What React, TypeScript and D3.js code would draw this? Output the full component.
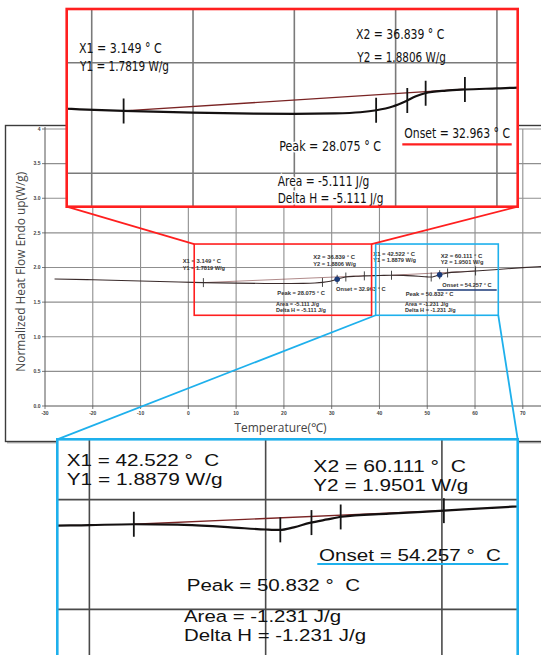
import React from 'react';
import * as d3 from 'd3';

// ---- data ----
const curveTemp = [-28, -20, -10, -2, 3.15, 10, 16, 20, 24, 26.5, 28.1, 29.7, 31, 32, 32.9, 35, 36.8, 40, 42.5, 45, 47, 48.2, 50, 50.8, 51.6, 52.5, 53.5, 54.3, 57, 60.1, 64, 70, 74];
const curveHeat = [1.834, 1.823, 1.806, 1.791, 1.782, 1.774, 1.770, 1.769, 1.771, 1.776, 1.785, 1.802, 1.826, 1.848, 1.862, 1.874, 1.879, 1.884, 1.888, 1.886, 1.879, 1.873, 1.864, 1.862, 1.874, 1.894, 1.910, 1.922, 1.936, 1.950, 1.968, 1.998, 2.015];

const xTickValues = [-30, -20, -10, 0, 10, 20, 30, 40, 50, 60, 70];
const yTickValues = [0, 0.5, 1, 1.5, 2, 2.5, 3, 3.5, 4];
const yTickLabels = ['0.0', '0.5', '1.0', '1.5', '2.0', '2.5', '3.0', '3.5', '4'];

const eventX1 = [3.149, 42.522];
const eventY1 = [1.7819, 1.8879];
const eventX2 = [36.839, 60.111];
const eventY2 = [1.8806, 1.9501];
const peakT = [28.075, 50.832];
const onsetT = [32.963, 54.257];
const areaJg = [-5.111, -1.231];
const markerT = [31.15, 52.6];

// zoom windows in data units (main chart)
const windowX = [[1.23, 38.35], [39.21, 64.87]];
const windowY = [1.31, 2.339];

// ---- layout ----
const W = 541, H = 655;
const main = { left: 45, right: 541, top: 129, bottom: 406, x70: 522.8 };
const insets = [
  { x: 66.7, y: 9, w: 451, h: 197.7, xd: [-2.47, 42.05], yd: [1.349, 2.243], color: '#ff1f1f', grid: '#7a7a7a' },
  { x: 57.3, y: 439.3, w: 460.4, h: 219.5, xd: [38.18, 64.3], yd: [1.275, 2.275], color: '#1eb0ec', grid: '#4a4a4a' },
];

function heatAt(t: number) {
  const i = Math.max(1, Math.min(curveTemp.length - 1, d3.bisectLeft(curveTemp, t)));
  const t0 = curveTemp[i - 1], t1 = curveTemp[i];
  const f = (t - t0) / (t1 - t0);
  return curveHeat[i - 1] + f * (curveHeat[i] - curveHeat[i - 1]);
}

const fmtLabels = (i: number, sp: string) => ({
  x1: `X1 = ${eventX1[i].toFixed(3)} °${sp}C`,
  y1: `Y1 = ${eventY1[i].toFixed(4)} W/g`,
  x2: `X2 = ${eventX2[i].toFixed(3)} °${sp}C`,
  y2: `Y2 = ${eventY2[i].toFixed(4)} W/g`,
  peak: `Peak = ${peakT[i].toFixed(3)} °${sp}C`,
  onset: `Onset = ${onsetT[i].toFixed(3)} °${sp}C`,
  area: `Area = ${areaJg[i].toFixed(3)} J/g`,
  dh: `Delta H = ${areaJg[i].toFixed(3)} J/g`,
});

// label placements: [x, baseline, textLength]
const mainLabelPos = [
  { x1: [182.7, 263.3, 38.3], y1: [182.7, 269.7, 42.3], x2: [313.3, 259.3, 41.7], y2: [313.3, 266, 42.7], peak: [277.3, 295, 47.7], onset: [336, 291, 49.7], area: [276, 305.7, 43], dh: [276, 312, 50] },
  { x1: [373.3, 256.3, 41.7], y1: [373.3, 262.3, 42.7], x2: [440.7, 258.3, 41.7], y2: [440.7, 264.3, 42.7], peak: [405.7, 296.3, 47.7], onset: [442.3, 286.7, 49.3], area: [405, 306.3, 43.3], dh: [405, 312.3, 50.7] },
];
const insetLabelPos = [
  { x1: [79, 53.3, 82.7], y1: [80, 70.7, 89], x2: [356, 39.3, 88.3], y2: [357.3, 61.7, 88.7], peak: [279.3, 150.7, 101.7], onset: [404.3, 137.7, 105.7], area: [277.7, 186, 91.7], dh: [277.7, 203.3, 105.7] },
  { x1: [66.7, 466, 152.6], y1: [66.7, 485, 156], x2: [313.3, 472.3, 152.7], y2: [313.3, 491, 155], peak: [186.7, 590.7, 173.3], onset: [319, 560.7, 182], area: [184, 622.3, 157], dh: [184, 640.7, 182] },
];
const insetFont = [14.8, 17.2];
const insetFamily = ["'Liberation Sans Narrow', 'DejaVu Sans Condensed', 'Liberation Sans', Arial, sans-serif", "'Liberation Sans', Arial, sans-serif"];
const underlineMain = { x0: 437.3, x1: 496.7, y: 290 };
const underlineInset = [{ x0: 402.3, x1: 511.7, y: 144.3 }, { x0: 317.3, x1: 508.3, y: 564 }];

const keys = ['x1', 'y1', 'x2', 'y2', 'peak', 'onset', 'area', 'dh'];

function tickTemps(i: number) {
  return [eventX1[i], peakT[i], markerT[i], onsetT[i], eventX2[i]];
}

function Inset({ idx }: { idx: number }) {
  const b = insets[idx];
  const x = d3.scaleLinear().domain(b.xd).range([b.x, b.x + b.w]);
  const y = d3.scaleLinear().domain(b.yd).range([b.y + b.h, b.y]);
  const line = d3.line<number>().x((_, i) => x(curveTemp[i])).y(d => y(d)).curve(d3.curveMonotoneX);
  const vg = d3.range(Math.ceil(b.xd[0] / 10) * 10, b.xd[1], 10);
  const hg = d3.range(Math.ceil(b.yd[0] / 0.5) * 0.5, b.yd[1], 0.5);
  const labels = fmtLabels(idx, idx === 0 ? '\u00A0' : '\u00A0\u00A0');
  const pos: any = insetLabelPos[idx];
  const ul = underlineInset[idx];
  const clipId = `inset-clip-${idx}`;
  return (
    <g>
      <defs>
        <clipPath id={clipId}><rect x={b.x} y={b.y} width={b.w} height={b.h} /></clipPath>
      </defs>
      <rect x={b.x} y={b.y} width={b.w} height={b.h} fill="#fff" />
      <g clipPath={`url(#${clipId})`}>
        {vg.map(v => <line key={'v' + v} x1={x(v)} x2={x(v)} y1={b.y} y2={b.y + b.h} stroke={b.grid} strokeWidth={1.6} />)}
        {hg.map(v => <line key={'h' + v} x1={b.x} x2={b.x + b.w} y1={y(v)} y2={y(v)} stroke={b.grid} strokeWidth={1.6} />)}
        <line x1={x(eventX1[idx])} y1={y(eventY1[idx])} x2={x(eventX2[idx])} y2={y(eventY2[idx])} stroke="#7a2424" strokeWidth={1.3} />
        <path d={line(curveHeat) || ''} fill="none" stroke="#141010" strokeWidth={2.2} />
        {tickTemps(idx).map(t => (
          <line key={'t' + t} x1={x(t)} x2={x(t)} y1={y(heatAt(t)) - 12.5} y2={y(heatAt(t)) + 12.5} stroke="#141414" strokeWidth={1.8} />
        ))}
        {keys.map(k => (
          <text key={k} x={pos[k][0]} y={pos[k][1]} textLength={pos[k][2]} lengthAdjust="spacingAndGlyphs"
            fontFamily={insetFamily[idx]} fontSize={insetFont[idx]} fill="#111" xmlSpace="preserve"
            stroke={idx === 0 && (k === 'peak' || k === 'area' || k === 'dh') ? '#fff' : 'none'} strokeWidth={3} paintOrder="stroke">
            {(labels as any)[k]}
          </text>
        ))}
        <line x1={ul.x0} x2={ul.x1} y1={ul.y} y2={ul.y} stroke={b.color} strokeWidth={2.2} />
      </g>
      <rect x={b.x} y={b.y} width={b.w} height={b.h} fill="none" stroke={b.color} strokeWidth={2.6} />
    </g>
  );
}

export default function App() {
  const x = d3.scaleLinear().domain([-30, 70]).range([main.left, main.x70]);
  const y = d3.scaleLinear().domain([0, 4]).range([main.bottom, main.top]);
  const line = d3.line<number>().x((_, i) => x(curveTemp[i])).y(d => y(d)).curve(d3.curveMonotoneX);
  const colors = [insets[0].color, insets[1].color];

  const rects = windowX.map(wx => ({ x0: x(wx[0]), x1: x(wx[1]), y0: y(windowY[1]), y1: y(windowY[0]) }));
  const r0 = rects[0], r1 = rects[1];
  const i0 = insets[0], i1 = insets[1];

  return (
    <svg width={W} height={H} style={{ position: 'absolute', left: 0, top: 0, background: '#fff' }} xmlns="http://www.w3.org/2000/svg">
      <defs>
        <clipPath id="plot-clip"><rect x={main.left} y={main.top - 2} width={main.right - main.left} height={main.bottom - main.top + 2} /></clipPath>
      </defs>
      {/* outer frame */}
      <rect x={7} y={127} width={560} height={316.5} fill="#bbb" />
      <rect x={5.5} y={125.5} width={560} height={316} fill="#fff" stroke="#3c3c3c" strokeWidth={1.4} />

      {/* grid */}
      <g>
        {xTickValues.slice(1).map(v => <line key={'gx' + v} x1={x(v)} x2={x(v)} y1={main.top} y2={main.bottom} stroke="#8f8f8f" strokeWidth={1.1} />)}
        {yTickValues.slice(1).map(v => <line key={'gy' + v} x1={main.left} x2={main.right} y1={y(v)} y2={y(v)} stroke="#8f8f8f" strokeWidth={1.1} />)}
      </g>
      {/* axes */}
      <line x1={main.left} x2={main.left} y1={main.top - 2} y2={main.bottom} stroke="#555" strokeWidth={1} />
      <line x1={main.left} x2={main.right} y1={main.bottom} y2={main.bottom} stroke="#555" strokeWidth={1} />
      {yTickValues.map((v, i) => (
        <g key={'yt' + v}>
          <line x1={main.left - 3} x2={main.left} y1={y(v)} y2={y(v)} stroke="#555" strokeWidth={0.8} />
          <text x={40.5} y={y(v)} dy="0.35em" textAnchor="end" fontFamily="'Liberation Sans', Arial, sans-serif" fontSize={5} fontWeight="bold" fill="#444">{yTickLabels[i]}</text>
        </g>
      ))}
      {xTickValues.map(v => (
        <g key={'xt' + v}>
          <line x1={x(v)} x2={x(v)} y1={main.bottom} y2={main.bottom + 3} stroke="#555" strokeWidth={0.8} />
          <text x={x(v)} y={415.2} textAnchor="middle" fontFamily="'Liberation Sans', Arial, sans-serif" fontSize={5} fontWeight="bold" fill="#444">{v}</text>
        </g>
      ))}
      <text transform={`translate(20,271.7) rotate(-90)`} textAnchor="middle" dy="0.35em" textLength={200} lengthAdjust="spacingAndGlyphs"
        fontFamily="'Open Sans', 'Noto Sans', sans-serif" fontSize={13} fill="#444">Normalized Heat Flow Endo up(W/g)</text>
      <text x={280.5} y={431.8} textAnchor="middle" textLength={92} lengthAdjust="spacingAndGlyphs"
        fontFamily="'Open Sans', 'Noto Sans', sans-serif" fontSize={12} fill="#444">Temperature(℃)</text>

      {/* data */}
      <g clipPath="url(#plot-clip)">
        {[0, 1].map(i => (
          <line key={'bl' + i} x1={x(eventX1[i])} y1={y(eventY1[i])} x2={x(eventX2[i])} y2={y(eventY2[i])} stroke="#7a3a3a" strokeWidth={0.6} />
        ))}
        <path d={line(curveHeat) || ''} fill="none" stroke="#3a2b2b" strokeWidth={1.1} />
        {[0, 1].flatMap(i => tickTemps(i).map(t => (
          <line key={'mt' + t} x1={x(t)} x2={x(t)} y1={y(heatAt(t)) - 4.5} y2={y(heatAt(t)) + 4.5} stroke="#333" strokeWidth={0.9} />
        )))}
        {markerT.map(t => <circle key={'m' + t} cx={x(t)} cy={y(heatAt(t))} r={2.8} fill="#1b3a78" />)}
        {[0, 1].map(i => {
          const labels: any = fmtLabels(i, '\u00A0');
          const pos: any = mainLabelPos[i];
          return keys.map(k => (
            <text key={'ml' + i + k} x={pos[k][0]} y={pos[k][1]} textLength={pos[k][2]} lengthAdjust="spacingAndGlyphs"
              fontFamily="'Liberation Sans', Arial, sans-serif" fontSize={5.4} fontWeight="bold" fill="#333">{labels[k]}</text>
          ));
        })}
        <line x1={underlineMain.x0} x2={underlineMain.x1} y1={underlineMain.y} y2={underlineMain.y} stroke="#1b3a78" strokeWidth={1.3} />
      </g>

      {/* zoom windows */}
      {rects.map((r, i) => (
        <rect key={'zr' + i} x={r.x0} y={r.y0} width={r.x1 - r.x0} height={r.y1 - r.y0} fill="none" stroke={colors[i]} strokeWidth={1.6} />
      ))}
      {/* connectors */}
      <line x1={i0.x} y1={i0.y + i0.h} x2={r0.x0} y2={r0.y0} stroke={colors[0]} strokeWidth={1.8} />
      <line x1={i0.x + i0.w} y1={i0.y + i0.h} x2={r0.x1} y2={r0.y0} stroke={colors[0]} strokeWidth={1.8} />
      <line x1={r1.x0} y1={r1.y1} x2={i1.x} y2={i1.y} stroke={colors[1]} strokeWidth={1.8} />
      <line x1={r1.x1} y1={r1.y1} x2={i1.x + i1.w} y2={i1.y} stroke={colors[1]} strokeWidth={1.8} />

      <Inset idx={0} />
      <Inset idx={1} />
    </svg>
  );
}
